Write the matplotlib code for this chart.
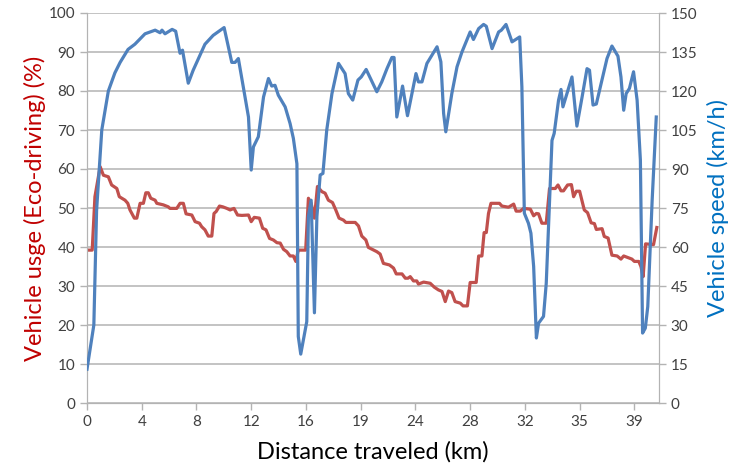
import matplotlib
matplotlib.use("Agg")
import matplotlib.pyplot as plt

plt.rcParams['font.family'] = ['Lato', 'DejaVu Sans']

# x positions are sample indices along the route (tick label every 20 samples)
tick_labels = ["0", "4", "8", "12", "16", "19", "24", "28", "32", "35", "39"]

speed_x = [0, 2.5, 3.5, 5.4, 7.8, 10.2, 12.1, 15.0, 17.5, 21.2, 24.9, 26.7, 27.4, 28.5,
           31.1, 32.4, 34.0, 34.9, 37.0, 38.8, 43.1, 46.1, 50.1, 52.9, 54.1, 55.3, 57.1,
           59.0, 60.0, 60.8, 62.6, 64.5, 66.3, 67.5, 68.7, 69.9, 72.4, 74.2, 75.4, 76.7,
           77.2, 78.1, 80.3, 80.9, 81.9, 83.1, 84.0, 85.2, 86.2, 87.6, 89.5, 91.9, 94.3,
           95.5, 97.1, 99.0, 100.2, 102.0, 105.9, 107.7, 109.6, 111.4, 112.2, 113.2, 115.3,
           117.1, 120.2, 121.1, 122.4, 124.2, 127.9, 129.3, 130.3, 131.1, 133.3, 135.2,
           137.0, 140.0, 141.2, 143.1, 144.9, 145.9, 148.0, 150.4, 151.4, 153.1, 155.3,
           158.1, 158.9, 159.8, 161.3, 162.2, 163.2, 164.2, 165.0, 166.8, 167.8, 169.9,
           170.7, 172.3, 173.2, 173.9, 177.2, 179.0, 180.9, 182.7, 183.6, 184.9, 186.1,
           190.0, 191.8, 194.0, 195.1, 196.1, 197.0, 198.2, 199.7, 201.0, 202.2, 203.0,
           204.0, 204.9, 206.5, 208.0]
speed = [13, 30, 74, 105, 120, 127, 131, 136, 138, 142, 143.4, 142.4, 143.4, 142,
         143.7, 143, 134.5, 135.7, 123, 128, 138, 141.4, 144.4, 131, 131, 132.5, 121.6,
         110, 89.6, 98.5, 102.4, 117.7, 124.8, 121.9, 122.2, 118.4, 113.9, 107.5, 101.8, 92,
         25.6, 18.8, 31.3, 71.7, 78, 34.7, 71.7, 87.7, 88.3, 105, 119, 130.6, 126.7,
         119, 116.5, 124.2, 125.4, 128.3, 119.7, 123.5, 128.6, 132.9, 132.9, 110, 121.9,
         110.5, 126.7, 123.5, 123.5, 130.6, 137, 131.2, 111.4, 104.3, 119, 129.3,
         135, 142.7, 139.8, 144, 145.6, 144.9, 136.3, 142.7, 143.4, 145.6, 138.9,
         140.8, 121.6, 73, 69.1, 65.3, 52.5, 25, 30.7, 33.3, 46, 101,
         103.7, 116.5, 120.6, 113.9, 125.4, 106.5, 117.7, 128.6, 128, 114.6, 115,
         132.5, 137.3, 133.4, 125.4, 112.6, 119, 121, 127.4, 116.5, 93.4, 26.9,
         28.8, 37.1, 78, 110]

usage_x = [0, 1.9, 2.9, 4.8, 6.0, 7.8, 9.0, 10.9, 11.8, 13.9, 14.9, 15.7, 17.3, 18.2,
           19.4, 20.6, 21.5, 22.4, 23.3, 24.9, 25.5, 27.9, 29.7, 30.3, 32.8, 34.0, 35.2,
           36.2, 38.3, 39.5, 41.1, 41.9, 43.1, 44.3, 45.6, 46.4, 47.2, 48.4, 49.6, 51.1,
           52.3, 53.7, 55.0, 56.6, 59.0, 60.0, 61.1, 63.0, 64.2, 65.4, 66.7, 68.1, 69.4,
           70.6, 71.8, 73.0, 74.2, 75.4, 76.3, 77.2, 79.9, 80.9, 81.9, 83.1, 84.2, 85.8,
           87.0, 88.2, 89.7, 90.9, 92.1, 93.7, 94.6, 98.0, 99.2, 100.4, 101.9, 102.8,
           105.9, 107.1, 108.3, 110.5, 112.0, 113.0, 115.1, 116.3, 117.3, 118.1, 119.3,
           120.5, 121.1, 123.0, 125.4, 126.9, 128.4, 129.7, 130.9, 132.1, 133.3, 134.5,
           136.4, 137.4, 139.0, 140.0, 142.2, 143.1, 144.3, 145.1, 145.9, 146.7, 147.6,
           150.7, 151.6, 154.0, 155.9, 156.8, 158.3, 159.5, 162.0, 163.2, 164.2, 165.0,
           166.2, 167.8, 169.0, 171.1, 172.1, 173.2, 174.1, 175.6, 177.0, 177.8, 178.8,
           180.0, 181.7, 182.9, 184.2, 185.4, 186.1, 188.2, 189.0, 190.4, 191.8, 193.7,
           195.1, 196.1, 199.1, 200.0, 201.6, 202.4, 203.2, 204.1, 207.0, 208.2]
usage = [39.2, 39.2, 52.9, 60.6, 58.4, 58, 55.9, 55, 52.9, 52, 51.2, 49.5, 47.4, 47.4,
         51.2, 51.2, 53.9, 53.9, 52.5, 52, 51.2, 50.8, 50.3, 49.9, 49.9, 51.2, 51.2,
         48.5, 48.2, 46.5, 46.1, 45.2, 44.4, 42.8, 42.8, 48.6, 49.1, 50.5, 50.3, 49.9,
         49.5, 49.9, 48.2, 48.1, 48.2, 46.5, 47.6, 47.4, 44.8, 44.4, 42.2, 41.8, 41.1,
         41.0, 39.4, 38.8, 37.7, 37.7, 36.3, 39.2, 39.2, 52.5, 51.2, 47.4, 55.5, 54.2,
         53.8, 52, 51.4, 49.5, 47.4, 46.9, 46.3, 46.3, 45.4, 42.8, 41.8, 39.9,
         38.8, 38.2, 35.8, 35.4, 34.6, 33.1, 33.1, 32, 32, 32.4, 31.3,
         31.3, 30.5, 31, 30.7, 29.7, 29, 28.6, 26, 28.7, 28.3, 26,
         25.6, 24.9, 24.9, 30.9, 30.9, 37.7, 37.7, 43.7, 43.7, 48.6, 51.2,
         51.2, 50.5, 50.2, 51, 49.2, 49.2, 49.9, 49.7, 48, 48.6, 48.5,
         46.1, 46.1, 55, 55, 55.9, 54.4, 54.4, 55.9, 56, 52.9, 54.3,
         54.3, 49.5, 48.8, 46.2, 46, 44.5, 44.7, 42.7, 42.3, 37.9, 37.7,
         36.9, 37.7, 36.9, 36.3, 36.3, 35, 32.4, 40.8, 40.6, 45]

RED = "#C0504D"
BLUE = "#4F81BD"
GRID = "#B3B3B3"
TXT = "#404040"

fig = plt.figure(figsize=(7.44, 4.69), dpi=100)
ax = fig.add_axes([87/744, 1-403/469, (659-87)/744, (403-13)/469])
ax2 = ax.twinx()

ax.plot(usage_x, usage, color=RED, lw=2.3, solid_joinstyle='round', zorder=3)
ax2.plot(speed_x, speed, color=BLUE, lw=2.3, solid_joinstyle='round', zorder=3)

ax.set_xlim(0, 209)
ax.set_ylim(0, 100)
ax2.set_ylim(0, 150)
ax.set_yticks(range(0, 101, 10))
ax2.set_yticks(range(0, 151, 15))
ax.set_xticks(range(0, 201, 20))
ax.set_xticklabels(tick_labels)

ax.grid(axis='y', color=GRID, lw=1.1)
ax.set_axisbelow(True)

for a in (ax, ax2):
    for s in a.spines.values():
        s.set_color(GRID)
    a.spines['top'].set_visible(False)
    a.tick_params(colors=GRID, labelcolor=TXT, labelsize=11, length=5, width=1)

ax.set_ylabel("Vehicle usge (Eco-driving) (%)", color="#C00000", fontsize=17, labelpad=2)
ax2.set_ylabel("Vehicle speed (km/h)", color="#0070C0", fontsize=17, labelpad=7)
ax.set_xlabel("Distance traveled (km)", color="black", fontsize=17, labelpad=9)

fig.savefig("out.png", dpi=100)
